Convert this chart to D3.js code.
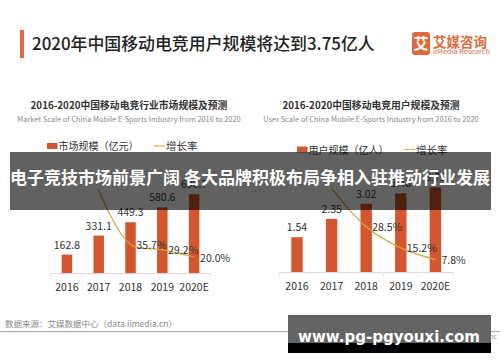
<!DOCTYPE html>
<html>
<head>
<meta charset="utf-8">
<script src="https://cdn.jsdelivr.net/npm/d3@7"></script>
<style>
  html, body { margin: 0; padding: 0; background: #fff; }
  svg { display: block; font-family: "Noto Sans CJK SC", "Noto Sans", sans-serif; }
</style>
</head>
<body>
<div id="chart"></div>
<script>
// chart data
const years = ["2016", "2017", "2018", "2019", "2020E"];
const marketScale = [162.8, 331.1, 449.3, 580.6, 696.7];
const marketGrowth = [null, 103.4, 35.7, 29.2, 20.0];
const userScale = [1.54, 2.35, 3.02, 3.48, 3.75];
const userGrowth = [null, 52.6, 28.5, 15.2, 7.8];

const W = 500, H = 362;
const barColor = "#d5552f";
const lineColor = "#d4a537";
const accent = "#e06a3b";

const svg = d3.select("#chart").append("svg")
    .attr("width", W).attr("height", H);

svg.append("rect").attr("width", W).attr("height", H).attr("fill", "#fff");

// header
svg.append("rect").attr("x", 20).attr("y", 30).attr("width", 4).attr("height", 28).attr("fill", accent);
svg.append("text").attr("x", 32).attr("y", 50)
    .attr("font-size", 16.9).attr("font-weight", 500).attr("fill", "#222")
    .text("2020年中国移动电竞用户规模将达到3.75亿人");

// logo
svg.append("rect").attr("x", 412).attr("y", 32).attr("width", 18).attr("height", 23).attr("rx", 3).attr("fill", accent);
svg.append("text").attr("x", 421).attr("y", 49).attr("text-anchor", "middle")
    .attr("font-size", 15).attr("font-weight", 700).attr("fill", "#fff").text("艾");
svg.append("text").attr("x", 433).attr("y", 46.5)
    .attr("font-size", 13.5).attr("font-weight", 700).attr("fill", accent).text("艾媒咨询");
svg.append("text").attr("x", 433).attr("y", 54)
    .attr("font-size", 6).attr("fill", accent)
    .attr("textLength", 57).attr("lengthAdjust", "spacingAndGlyphs").text("iiMedia Research");

function drawChart(cfg) {
    const g = svg.append("g");

    g.append("text").attr("x", cfg.cx).attr("y", 109).attr("text-anchor", "middle")
        .attr("font-size", 9.8).attr("font-weight", 700).attr("fill", "#333").text(cfg.title);
    g.append("text").attr("x", cfg.cx).attr("y", 122).attr("text-anchor", "middle")
        .attr("font-size", 7.4).attr("fill", "#888").text(cfg.subtitle);

    // legend
    const lg = g.append("g").attr("transform", `translate(0,${cfg.legendY})`);
    lg.append("rect").attr("x", cfg.legendX).attr("y", -3).attr("width", 10.5).attr("height", 6).attr("fill", barColor);
    lg.append("text").attr("x", cfg.legendX + 11.5).attr("y", 4)
        .attr("font-size", 10).attr("fill", "#333").text(cfg.barName);
    lg.append("line").attr("x1", cfg.legendX + 107).attr("x2", cfg.legendX + 118)
        .attr("y1", 0).attr("y2", 0).attr("stroke", "#e0b84a").attr("stroke-width", 1.2);
    lg.append("text").attr("x", cfg.legendX + 119).attr("y", 4)
        .attr("font-size", 10.5).attr("fill", "#333").text("增长率");

    const x = d3.scaleBand().domain(years).range(cfg.xRange)
        .paddingInner(0.67).paddingOuter(0.335);
    const y = d3.scaleLinear().domain(cfg.yDomain).range(cfg.yRange);
    const yg = d3.scaleLinear().domain(cfg.gDomain).range(cfg.gRange);

    // axis
    const axis = g.append("g").attr("transform", `translate(0,${cfg.yRange[0]})`)
        .call(d3.axisBottom(x).tickSize(0).tickPadding(11));
    axis.select(".domain").attr("stroke", "#d9d9d9");
    axis.selectAll("text").attr("font-size", 10.5).attr("fill", "#333")
        .attr("font-family", "'Noto Sans CJK SC', sans-serif");
    const step = x.step();
    axis.selectAll(".sep").data(d3.range(years.length + 1)).enter().append("line")
        .attr("x1", i => cfg.xRange[0] + i * step).attr("x2", i => cfg.xRange[0] + i * step)
        .attr("y1", 0).attr("y2", 4).attr("stroke", "#e3e3e3");

    // bars
    g.selectAll(".bar").data(cfg.values).enter().append("rect")
        .attr("x", (d, i) => x(years[i]))
        .attr("y", d => y(d))
        .attr("width", x.bandwidth())
        .attr("height", d => y(0) - y(d))
        .attr("fill", barColor);

    g.selectAll(".vlabel").data(cfg.values).enter().append("text")
        .attr("x", (d, i) => x(years[i]) + x.bandwidth() / 2)
        .attr("y", d => y(d) - 6)
        .attr("text-anchor", "middle")
        .attr("font-size", 10.5).attr("fill", "#333")
        .text(d => cfg.fmt(d));

    // growth line
    const pts = cfg.growth.map((v, i) => ({ v, i })).filter(d => d.v !== null);
    const line = d3.line()
        .x(d => x(years[d.i]) + x.bandwidth() / 2)
        .y(d => yg(d.v))
        .curve(d3.curveCatmullRom.alpha(0.5));
    g.append("path").datum(pts).attr("d", line)
        .attr("fill", "none").attr("stroke", lineColor).attr("stroke-width", 1.2);

    g.selectAll(".glabel").data(pts.filter(d => d.i >= 2)).enter().append("text")
        .attr("x", d => x(years[d.i]) + x.bandwidth() / 2 + 6)
        .attr("y", d => yg(d.v) + 4.5)
        .attr("font-size", 10.5).attr("fill", "#333")
        .text(d => d.v.toFixed(1) + "%");
}

drawChart({
    cx: 129,
    title: "2016-2020中国移动电竞行业市场规模及预测",
    subtitle: "Market Scale of China Mobile E-Sports Industry from 2016 to 2020",
    legendX: 47, legendY: 146,
    barName: "市场规模（亿元）",
    xRange: [51, 210],
    yDomain: [0, 700], yRange: [273, 193.9],
    gDomain: [0, 100], gRange: [273, 193],
    values: marketScale, growth: marketGrowth,
    fmt: d => d.toFixed(1)
});

drawChart({
    cx: 371,
    title: "2016-2020中国移动电竞用户规模及预测",
    subtitle: "User Scale of China Mobile E-Sports Industry from 2016 to 2020",
    legendX: 297, legendY: 149.5,
    barName: "用户规模（亿人）",
    xRange: [279.7, 452.7],
    yDomain: [0, 4], yRange: [272, 181.6],
    gDomain: [0, 60], gRange: [272, 176.6],
    values: userScale, growth: userGrowth,
    fmt: d => d.toFixed(2)
});

// overlay band with headline
svg.append("rect").attr("x", 10).attr("y", 152).attr("width", 481).attr("height", 58)
    .attr("fill", "#000").attr("fill-opacity", 0.62);
svg.append("text").attr("x", 250).attr("y", 184).attr("text-anchor", "middle")
    .attr("font-size", 17).attr("font-weight", 700).attr("fill", "#fff")
    .text("电子竞技市场前景广阔 各大品牌积极布局争相入驻推动行业发展");

// footer
svg.append("text").attr("x", 5).attr("y", 326.5)
    .attr("font-size", 8.5).attr("fill", "#8a8a8a").text("数据来源：艾媒数据中心（data.iimedia.cn）");
svg.append("line").attr("x1", 0).attr("x2", W).attr("y1", 331.7).attr("y2", 331.7)
    .attr("stroke", "#b0b0b0").attr("stroke-width", 1.3);
svg.append("text").attr("x", 497).attr("y", 338.5).attr("text-anchor", "end")
    .attr("font-size", 7).attr("fill", "#999").text("© 2020 iiMedia Research Inc");

// watermark box
svg.append("rect").attr("x", 288).attr("y", 315).attr("width", 203).attr("height", 28).attr("fill", "#646464");
svg.append("rect").attr("x", 288).attr("y", 343).attr("width", 203).attr("height", 10).attr("fill", "#000");
svg.append("text").attr("x", 298).attr("y", 341.5)
    .attr("font-family", "'DejaVu Sans', sans-serif")
    .attr("font-size", 15.5).attr("font-weight", 700).attr("fill", "#fff")
    .attr("textLength", 182).attr("lengthAdjust", "spacingAndGlyphs")
    .text("www.pg-pgyouxi.com");
</script>
</body>
</html>
